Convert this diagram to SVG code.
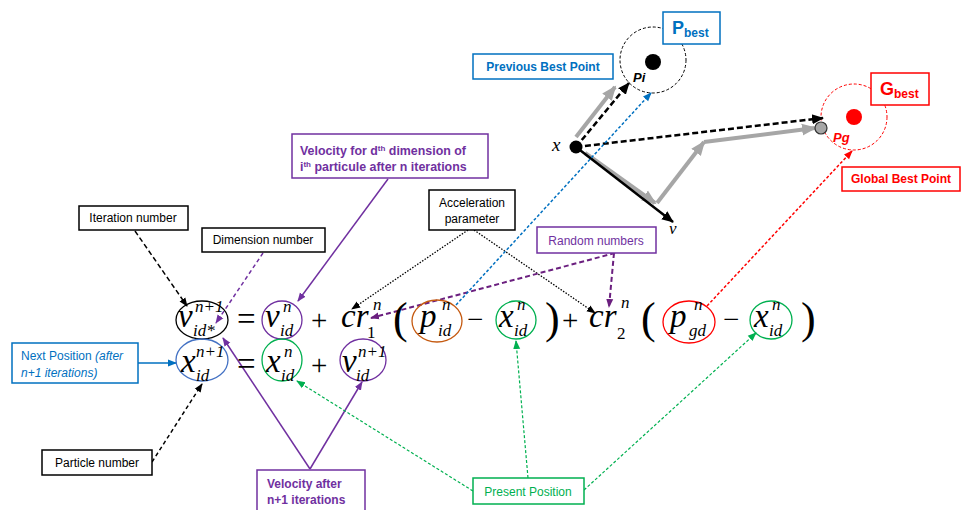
<svg xmlns="http://www.w3.org/2000/svg" width="969" height="510" viewBox="0 0 969 510">
<style>
.m{font-family:"Liberation Serif","Times New Roman",serif;font-style:italic;fill:#000}
.b{font-size:33px}
.s{font-size:17px}
.op{font-family:"Liberation Serif","Times New Roman",serif;fill:#000}
.par{font-family:"Liberation Serif","Times New Roman",serif;fill:#000;font-size:44px}
.lbl{font-family:"Liberation Sans",Arial,sans-serif;font-size:12px}
.bold{font-weight:bold}
.box{fill:#fff;stroke-width:1.5}
.ell{fill:none;stroke-width:1.3}
</style>
<defs>
<marker id="aK" markerUnits="userSpaceOnUse" markerWidth="10" markerHeight="10" refX="8" refY="5" orient="auto"><path d="M0,1.5 L9,5 L0,8.5 z" fill="#000"/></marker>
<marker id="aP" markerUnits="userSpaceOnUse" markerWidth="10" markerHeight="10" refX="8" refY="5" orient="auto"><path d="M0,1.5 L9,5 L0,8.5 z" fill="#7030A0"/></marker>
<marker id="aD" markerUnits="userSpaceOnUse" markerWidth="10" markerHeight="10" refX="8" refY="5" orient="auto"><path d="M0,1.5 L9,5 L0,8.5 z" fill="#6B1F7F"/></marker>
<marker id="aB" markerUnits="userSpaceOnUse" markerWidth="10" markerHeight="10" refX="8" refY="5" orient="auto"><path d="M0,1.5 L9,5 L0,8.5 z" fill="#0070C0"/></marker>
<marker id="aR" markerUnits="userSpaceOnUse" markerWidth="10" markerHeight="10" refX="8" refY="5" orient="auto"><path d="M0,1.5 L9,5 L0,8.5 z" fill="#FF0000"/></marker>
<marker id="aG" markerUnits="userSpaceOnUse" markerWidth="10" markerHeight="10" refX="8" refY="5" orient="auto"><path d="M0,1.5 L9,5 L0,8.5 z" fill="#00B050"/></marker>
<marker id="aY" markerUnits="userSpaceOnUse" markerWidth="16" markerHeight="16" refX="13" refY="8" orient="auto"><path d="M0,2 L15,8 L0,14 z" fill="#A6A6A6"/></marker>
<marker id="aKb" markerUnits="userSpaceOnUse" markerWidth="14" markerHeight="14" refX="11" refY="7" orient="auto"><path d="M0,2 L12,7 L0,12 z" fill="#000"/></marker>
</defs>

<!-- scatter diagram -->
<g id="pbest-region">
<circle cx="653" cy="60" r="33" fill="none" stroke="#000" stroke-width="1" stroke-dasharray="3,2"/>
<circle cx="653" cy="62" r="8" fill="#000"/>
<text x="633" y="82" class="lbl bold" style="font-style:italic;font-size:13px">Pi</text>
</g>
<g id="gbest-region">
<circle cx="854" cy="117" r="33" fill="none" stroke="#FF0000" stroke-width="1" stroke-dasharray="3,2"/>
<circle cx="854" cy="117" r="8" fill="#FF0000"/>
<text x="833" y="142" class="lbl bold" style="font-style:italic;font-size:13px;fill:#FF0000">Pg</text>
</g>

<g id="vectors">
<line x1="576" y1="137" x2="615" y2="87" stroke="#A6A6A6" stroke-width="4" marker-end="url(#aY)"/>
<line x1="585" y1="153" x2="655" y2="203" stroke="#A6A6A6" stroke-width="4" marker-end="url(#aY)"/>
<line x1="657" y1="203" x2="704" y2="142" stroke="#A6A6A6" stroke-width="4" marker-end="url(#aY)"/>
<line x1="704" y1="142" x2="815" y2="128" stroke="#A6A6A6" stroke-width="4" marker-end="url(#aY)"/>
<line x1="576" y1="147" x2="673" y2="222" stroke="#000" stroke-width="2.5" marker-end="url(#aKb)"/>
<line x1="576" y1="147" x2="629" y2="83" stroke="#000" stroke-width="2.5" stroke-dasharray="6,3" marker-end="url(#aKb)"/>
<line x1="576" y1="147" x2="823" y2="118" stroke="#000" stroke-width="2.5" stroke-dasharray="6,3" marker-end="url(#aKb)"/>
</g>
<g id="point-x">
<circle cx="576" cy="147" r="6.5" fill="#000"/>
<text x="552" y="151" class="m" style="font-size:19px">x</text>
</g>
<g id="point-v"><text x="669" y="234" class="m" style="font-size:17px">v</text></g>
<g id="point-pg"><circle cx="821" cy="128" r="6" fill="#A6A6A6" stroke="#333" stroke-width="1.2"/></g>

<g id="connectors" fill="none">
<line x1="135" y1="231" x2="187" y2="306" stroke="#000" stroke-width="1.5" stroke-dasharray="5,3" marker-end="url(#aK)"/>
<line x1="263" y1="253" x2="216" y2="323" stroke="#7030A0" stroke-width="1.5" stroke-dasharray="4,3" marker-end="url(#aP)"/>
<line x1="388" y1="179" x2="298" y2="301" stroke="#7030A0" stroke-width="1.5" marker-end="url(#aP)"/>
<line x1="468" y1="230" x2="352" y2="309" stroke="#000" stroke-width="1.3" stroke-dasharray="1.5,1.5" marker-end="url(#aK)"/>
<line x1="474" y1="230" x2="595" y2="313" stroke="#000" stroke-width="1.3" stroke-dasharray="1.5,1.5" marker-end="url(#aK)"/>
<line x1="615" y1="253" x2="371" y2="318" stroke="#6B1F7F" stroke-width="2" stroke-dasharray="5,3" marker-end="url(#aD)"/>
<line x1="614" y1="253" x2="609" y2="307" stroke="#6B1F7F" stroke-width="2" stroke-dasharray="5,3" marker-end="url(#aD)"/>
<line x1="456" y1="305" x2="651" y2="93" stroke="#0070C0" stroke-width="1.5" stroke-dasharray="3,2" marker-end="url(#aB)"/>
<line x1="707" y1="306" x2="852" y2="151" stroke="#FF0000" stroke-width="1.5" stroke-dasharray="3,2" marker-end="url(#aR)"/>
<line x1="138" y1="363" x2="176" y2="363" stroke="#0070C0" stroke-width="1.5" marker-end="url(#aB)"/>
<line x1="152" y1="462" x2="202" y2="384" stroke="#000" stroke-width="1.5" stroke-dasharray="4,3" marker-end="url(#aK)"/>
<line x1="310" y1="469" x2="223" y2="338" stroke="#7030A0" stroke-width="1.5" marker-end="url(#aP)"/>
<line x1="310" y1="469" x2="362" y2="382" stroke="#7030A0" stroke-width="1.5" marker-end="url(#aP)"/>
<line x1="473" y1="491" x2="297" y2="381" stroke="#00B050" stroke-width="1.2" stroke-dasharray="3,2" marker-end="url(#aG)"/>
<line x1="528" y1="478" x2="516" y2="341" stroke="#00B050" stroke-width="1.2" stroke-dasharray="3,2" marker-end="url(#aG)"/>
<line x1="584" y1="490" x2="756" y2="333" stroke="#00B050" stroke-width="1.2" stroke-dasharray="3,2" marker-end="url(#aG)"/>
</g>

<!-- equation row 1 -->
<g id="v-new">
<ellipse cx="202" cy="320" rx="26" ry="19" class="ell" stroke="#000"/>
<text x="178" y="327" class="m b">v</text>
<text x="195" y="312" class="m s">n+1</text>
<text x="193" y="336" class="m s">id*</text>
</g>
<text x="237" y="330" class="op" style="font-size:33px">=</text>
<g id="v-old">
<ellipse cx="282" cy="320" rx="20" ry="19" class="ell" stroke="#7030A0"/>
<text x="265" y="327" class="m b">v</text>
<text x="283" y="312" class="m s">n</text>
<text x="280" y="336" class="m s">id</text>
</g>
<text x="311" y="330" class="op" style="font-size:29px">+</text>
<g id="cr1">
<text x="341" y="327" class="m b">cr</text>
<text x="373" y="310" class="m s">n</text>
<text x="367" y="338" class="op s">1</text>
</g>
<text x="393" y="333" class="par">(</text>
<g id="p-id">
<ellipse cx="437" cy="321" rx="25" ry="21" class="ell" stroke="#C55A11"/>
<text x="420" y="327" class="m b">p</text>
<text x="442" y="310" class="m s">n</text>
<text x="438" y="336" class="m s">id</text>
</g>
<text x="467" y="329" class="op" style="font-size:29px">−</text>
<g id="x-id-1">
<ellipse cx="516" cy="320" rx="20" ry="19" class="ell" stroke="#00B050"/>
<text x="499" y="327" class="m b">x</text>
<text x="517" y="310" class="m s">n</text>
<text x="514" y="336" class="m s">id</text>
</g>
<text x="545" y="333" class="par">)</text>
<text x="562" y="330" class="op" style="font-size:29px">+</text>
<g id="cr2">
<text x="589" y="327" class="m b">cr</text>
<text x="621" y="308" class="m s">n</text>
<text x="617" y="339" class="op s">2</text>
</g>
<text x="641" y="333" class="par">(</text>
<g id="p-gd">
<ellipse cx="689" cy="322" rx="26" ry="21" class="ell" stroke="#FF0000"/>
<text x="670" y="327" class="m b">p</text>
<text x="694" y="310" class="m s">n</text>
<text x="689" y="336" class="m s">gd</text>
</g>
<text x="723" y="329" class="op" style="font-size:29px">−</text>
<g id="x-id-2">
<ellipse cx="771" cy="320" rx="21" ry="19" class="ell" stroke="#00B050"/>
<text x="754" y="327" class="m b">x</text>
<text x="772" y="310" class="m s">n</text>
<text x="769" y="336" class="m s">id</text>
</g>
<text x="801" y="333" class="par">)</text>

<!-- equation row 2 -->
<g id="x-new">
<ellipse cx="202" cy="360" rx="26" ry="21" class="ell" stroke="#4472C4"/>
<text x="181" y="372" class="m b">x</text>
<text x="196" y="357" class="m s">n+1</text>
<text x="196" y="381" class="m s">id</text>
</g>
<text x="237" y="375" class="op" style="font-size:33px">=</text>
<g id="x-old">
<ellipse cx="282" cy="360" rx="20" ry="21" class="ell" stroke="#00B050"/>
<text x="266" y="372" class="m b">x</text>
<text x="284" y="357" class="m s">n</text>
<text x="281" y="381" class="m s">id</text>
</g>
<text x="311" y="375" class="op" style="font-size:29px">+</text>
<g id="v-new-2">
<ellipse cx="363" cy="360" rx="23" ry="21" class="ell" stroke="#7030A0"/>
<text x="342" y="372" class="m b">v</text>
<text x="358" y="357" class="m s">n+1</text>
<text x="356" y="381" class="m s">id</text>
</g>

<!-- label boxes -->
<g id="pbest-box">
<rect x="663" y="12" width="57" height="32" class="box" stroke="#0070C0"/>
<text x="672" y="34" class="lbl bold" style="font-size:18px;fill:#0070C0">P<tspan style="font-size:12px" dy="3">best</tspan></text>
</g>
<g id="prev-best">
<rect x="473" y="54" width="140" height="25" class="box" stroke="#0070C0"/>
<text x="543" y="71" class="lbl bold" text-anchor="middle" fill="#0070C0">Previous Best Point</text>
</g>
<g id="gbest-box">
<rect x="871" y="73" width="58" height="32" class="box" stroke="#FF0000"/>
<text x="880" y="95" class="lbl bold" style="font-size:18px;fill:#FF0000">G<tspan style="font-size:12px" dy="3">best</tspan></text>
</g>
<g id="global-best">
<rect x="842" y="167" width="118" height="24" class="box" stroke="#FF0000"/>
<text x="901" y="183" class="lbl bold" text-anchor="middle" fill="#FF0000">Global Best Point</text>
</g>
<g id="vel-d">
<rect x="292" y="134" width="196" height="44" class="box" stroke="#7030A0"/>
<text x="300" y="155" class="lbl bold" fill="#7030A0" style="font-size:12.4px">Velocity for d<tspan dy="-4" style="font-size:8px">th</tspan><tspan dy="4"> dimension of</tspan></text>
<text x="300" y="171" class="lbl bold" fill="#7030A0" style="font-size:12.4px">i<tspan dy="-4" style="font-size:8px">th</tspan><tspan dy="4"> particule after n iterations</tspan></text>
</g>
<g id="iter">
<rect x="79" y="206" width="109" height="24" class="box" stroke="#000"/>
<text x="133" y="222" class="lbl" text-anchor="middle">Iteration number</text>
</g>
<g id="dim">
<rect x="202" y="228" width="123" height="24" class="box" stroke="#000"/>
<text x="263" y="244" class="lbl" text-anchor="middle">Dimension number</text>
</g>
<g id="accel">
<rect x="429" y="190" width="86" height="40" class="box" stroke="#000"/>
<text x="472" y="207" class="lbl" text-anchor="middle">Acceleration</text>
<text x="472" y="223" class="lbl" text-anchor="middle">parameter</text>
</g>
<g id="random">
<rect x="537" y="227" width="119" height="26" class="box" stroke="#7030A0"/>
<text x="596" y="245" class="lbl" text-anchor="middle" fill="#7030A0">Random numbers</text>
</g>
<g id="next-pos">
<rect x="12" y="343" width="126" height="40" class="box" stroke="#0070C0"/>
<text x="21" y="360" class="lbl" fill="#0070C0">Next Position <tspan font-style="italic">(after</tspan></text>
<text x="21" y="377" class="lbl" fill="#0070C0" font-style="italic">n+1 iterations)</text>
</g>
<g id="particle">
<rect x="42" y="450" width="110" height="25" class="box" stroke="#000"/>
<text x="97" y="467" class="lbl" text-anchor="middle">Particle number</text>
</g>
<g id="vel-after">
<rect x="257" y="470" width="108" height="45" class="box" stroke="#7030A0"/>
<text x="267" y="488" class="lbl bold" fill="#7030A0">Velocity after</text>
<text x="267" y="504" class="lbl bold" fill="#7030A0">n+1 iterations</text>
</g>
<g id="present">
<rect x="473" y="478" width="111" height="26" class="box" stroke="#00B050"/>
<text x="528" y="496" class="lbl" text-anchor="middle" fill="#00B050">Present Position</text>
</g>
</svg>
